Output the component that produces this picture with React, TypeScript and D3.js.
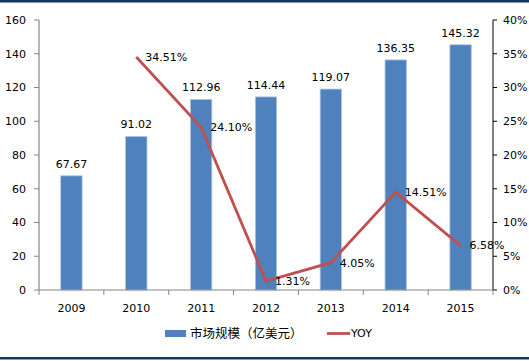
import React from "react";
import * as d3 from "d3";

const years = ["2009", "2010", "2011", "2012", "2013", "2014", "2015"];
const marketSize = [67.67, 91.02, 112.96, 114.44, 119.07, 136.35, 145.32];
const yoyYears = ["2010", "2011", "2012", "2013", "2014", "2015"];
const yoy = [34.51, 24.1, 1.31, 4.05, 14.51, 6.58];
const leftTicks = [0, 20, 40, 60, 80, 100, 120, 140, 160];
const rightTicks = [0, 5, 10, 15, 20, 25, 30, 35, 40];
const legendBar = "市场规模（亿美元）";
const legendLine = "YOY";

const W = 529;
const H = 361;
const left = 39;
const right = 493;
const top = 20;
const bottom = 290;
const font = "DejaVu Sans, Verdana, sans-serif";
const axisColor = "#868686";
const barColor = "#4F81BD";
const lineColor = "#C0504D";

export default function App() {
  const x = d3.scaleBand<string>().domain(years).range([left, right]).padding(0);
  const yL = d3.scaleLinear().domain([0, 160]).range([bottom, top]);
  const yR = d3.scaleLinear().domain([0, 40]).range([bottom, top]);
  const bw = x.bandwidth() * 0.33;
  const cx = (c: string) => (x(c) as number) + x.bandwidth() / 2;
  const line = d3
    .line<number>()
    .x((_, i) => cx(yoyYears[i]))
    .y((d) => yR(d));
  const boundaries = years.map((c) => x(c) as number).concat([right]);

  return (
    <svg
      width={W}
      height={H}
      style={{ position: "absolute", left: 0, top: 0, background: "#fff" }}
      fontFamily={font}
    >
      <rect x={0} y={0} width={W} height={2.5} fill="#17375E" />
      <rect x={0} y={357} width={W} height={2.5} fill="#17375E" />

      {/* bars */}
      {years.map((c, i) => (
        <rect
          key={c}
          x={cx(c) - bw / 2}
          y={yL(marketSize[i])}
          width={bw}
          height={bottom - yL(marketSize[i])}
          fill={barColor}
          stroke="#B0C7E3"
          strokeWidth={0.8}
        />
      ))}
      {years.map((c, i) => (
        <text
          key={"l" + c}
          x={cx(c)}
          y={yL(marketSize[i]) - 8}
          fontSize={11}
          textAnchor="middle"
          fill="#000"
        >
          {marketSize[i].toFixed(2)}
        </text>
      ))}

      {/* axes */}
      <line x1={left} x2={left} y1={top} y2={bottom} stroke={axisColor} strokeWidth={1.2} />
      <line x1={right} x2={right} y1={top} y2={bottom} stroke={"#000"} strokeWidth={1} />
      <line x1={left} x2={right} y1={bottom} y2={bottom} stroke={axisColor} strokeWidth={1.2} />
      {leftTicks.map((t) => (
        <g key={"lt" + t}>
          <line x1={left - 5} x2={left} y1={yL(t)} y2={yL(t)} stroke={axisColor} />
          <text x={left - 13} y={yL(t)} dy="0.35em" fontSize={11} textAnchor="end">
            {t}
          </text>
        </g>
      ))}
      {rightTicks.map((t) => (
        <g key={"rt" + t}>
          <line x1={right} x2={right + 4} y1={yR(t)} y2={yR(t)} stroke="#000" />
          <text x={right + 10} y={yR(t)} dy="0.35em" fontSize={11} textAnchor="start">
            {t + "%"}
          </text>
        </g>
      ))}
      {boundaries.map((b, i) => (
        <line key={"xt" + i} x1={b} x2={b} y1={bottom} y2={bottom + 5} stroke={axisColor} />
      ))}
      {years.map((c) => (
        <text key={"xl" + c} x={cx(c)} y={308} dy="0.35em" fontSize={11} textAnchor="middle">
          {c}
        </text>
      ))}

      {/* line */}
      <path d={line(yoy) || ""} fill="none" stroke={lineColor} strokeWidth={2.8} />
      {yoy.map((v, i) => (
        <text
          key={"y" + i}
          x={cx(yoyYears[i]) + 9}
          y={yR(v)}
          dy="0.35em"
          fontSize={11}
          textAnchor="start"
        >
          {v.toFixed(2) + "%"}
        </text>
      ))}

      {/* legend */}
      <rect x={165} y={330} width={21} height={7} fill={barColor} />
      <text x={190} y={333.5} dy="0.35em" fontSize={12.5} fontFamily="Noto Sans CJK SC, sans-serif">
        {legendBar}
      </text>
      <line x1={327} x2={350} y1={333.5} y2={333.5} stroke={lineColor} strokeWidth={2.8} />
      <text x={351} y={333.5} dy="0.35em" fontSize={11}>
        {legendLine}
      </text>
    </svg>
  );
}
